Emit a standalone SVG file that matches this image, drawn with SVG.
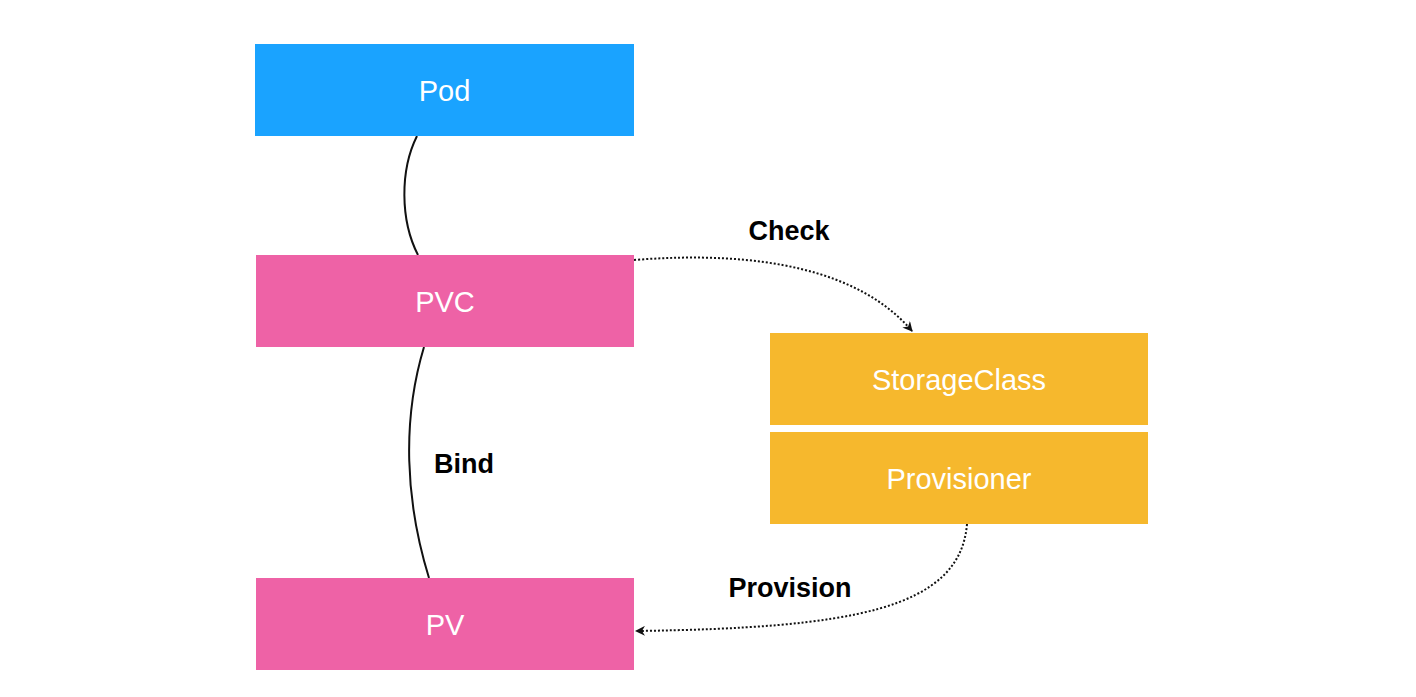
<svg xmlns="http://www.w3.org/2000/svg" width="1416" height="697" viewBox="0 0 1416 697">
<style>
.box text{font-family:"Liberation Sans",Arial,sans-serif;font-size:29px;fill:#fff;text-anchor:middle;dominant-baseline:central}
.lbl{font-family:"Liberation Sans",Arial,sans-serif;font-size:27px;font-weight:bold;fill:#000;text-anchor:middle}
.solid{fill:none;stroke:#111;stroke-width:2}
.dot{fill:none;stroke:#111;stroke-width:2;stroke-dasharray:2 2}
</style>
<defs>
<marker id="ah2" viewBox="0 0 10 10" refX="9" refY="5" markerWidth="10" markerHeight="10" orient="auto" markerUnits="userSpaceOnUse">
<path d="M0,0 L10,5 L0,10 L3,5 Z" fill="#111"/>
</marker>
</defs>
<rect width="1416" height="697" fill="#fff"/>
<g id="connectors">
<path class="solid" d="M417,136 C400,170 400,220 418,255"/>
<path class="solid" d="M424,347 C402,420 405,500 429,578"/>
<path class="dot" d="M634,260 C760,250 860,270 912,331" marker-end="url(#ah2)"/>
<path class="dot" d="M967,524 C960,610 850,628 636,631" marker-end="url(#ah2)"/>
</g>
<g id="pod" class="box"><rect x="255" y="44" width="379" height="92" fill="#1aa3ff"/><text x="444.5" y="91">Pod</text></g>
<g id="pvc" class="box"><rect x="256" y="255" width="378" height="92" fill="#ee62a6"/><text x="445" y="302">PVC</text></g>
<g id="pv" class="box"><rect x="256" y="578" width="378" height="92" fill="#ee62a6"/><text x="445" y="625">PV</text></g>
<g id="storageclass" class="box"><rect x="770" y="333" width="378" height="92" fill="#f6b82d"/><text x="959" y="380">StorageClass</text></g>
<g id="provisioner" class="box"><rect x="770" y="432" width="378" height="92" fill="#f6b82d"/><text x="959" y="479">Provisioner</text></g>
<g id="labels">
<text class="lbl" x="789" y="240">Check</text>
<text class="lbl" x="464" y="473">Bind</text>
<text class="lbl" x="790" y="597">Provision</text>
</g>
</svg>
